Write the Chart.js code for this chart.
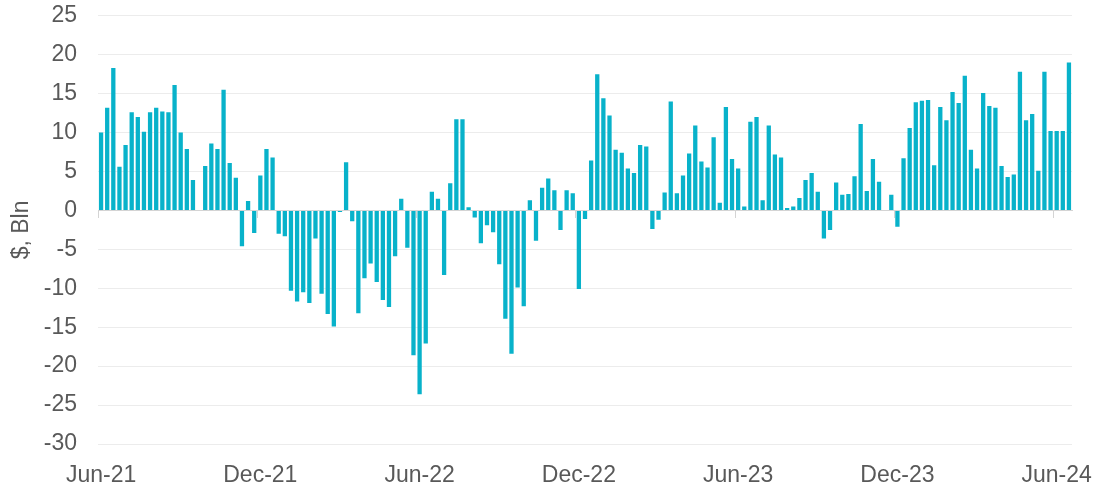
<!DOCTYPE html>
<html>
<head>
<meta charset="utf-8">
<script src="https://cdn.jsdelivr.net/npm/chart.js@4/dist/chart.umd.min.js"></script>
<style>
    html, body { margin: 0; padding: 0; background: #ffffff; }
    #wrap { width: 1096px; height: 489px; position: relative; }
</style>
</head>
<body>
<div id="wrap"><canvas id="flows-chart"></canvas></div>
<script>
// Weekly net flows, $ bln, Jun-21 .. Jun-24
const weeklyFlows = [
    10.0, 13.2, 18.3, 5.6, 8.4, 12.6, 12.0, 10.1, 12.6, 13.2,
    12.7, 12.6, 16.1, 10.0, 7.9, 3.9, 0, 5.7, 8.6, 7.9,
    15.5, 6.1, 4.2, -4.6, 1.2, -2.9, 4.5, 7.9, 6.8, -3.0,
    -3.3, -10.3, -11.7, -10.5, -11.9, -3.6, -10.7, -13.3, -14.9, -0.2,
    6.2, -1.4, -13.2, -8.7, -6.8, -9.2, -11.5, -12.4, -5.9, 1.5,
    -4.8, -18.6, -23.6, -17.1, 2.4, 1.5, -8.3, 3.5, 11.7, 11.7,
    0.4, -0.9, -4.2, -1.9, -2.8, -6.9, -13.9, -18.4, -9.9, -12.3,
    1.3, -3.9, 2.9, 4.1, 2.6, -2.5, 2.6, 2.2, -10.1, -1.1,
    6.4, 17.5, 14.4, 12.2, 7.8, 7.4, 5.4, 4.8, 8.4, 8.2,
    -2.4, -1.2, 2.3, 14.0, 2.2, 4.5, 7.3, 10.9, 6.3, 5.5,
    9.4, 1.0, 13.3, 6.6, 5.4, 0.5, 11.4, 12.0, 1.3, 10.9,
    7.2, 6.8, 0.3, 0.5, 1.6, 3.9, 4.8, 2.4, -3.6, -2.5,
    3.6, 2.0, 2.1, 4.4, 11.1, 2.5, 6.6, 3.7, 0, 2.0,
    -2.1, 6.7, 10.6, 13.9, 14.1, 14.2, 5.8, 13.3, 11.6, 15.2,
    13.8, 17.3, 7.8, 5.4, 15.1, 13.4, 13.2, 5.7, 4.3, 4.6,
    17.8, 11.6, 12.4, 5.1, 17.8, 10.2, 10.2, 10.2, 19.0
];

// one x label every 26 weeks
const tickLabels = ["Jun-21", "Dec-21", "Jun-22", "Dec-22", "Jun-23", "Dec-23", "Jun-24"];
const weeksPerTick = 26;
const firstWeek = new Date(2021, 5, 4);

const yMin = -30;
const yMax = 25;
const yStep = 5;

const barColor = "#08b2ca";
const textColor = "#595959";
const gridColor = "#ececec";
const axisColor = "#d4d4d4";
const fontFamily = "'Liberation Sans', Arial, sans-serif";

// category per week; only used as keys for the category axis
const weekLabels = weeklyFlows.map((_, i) => {
    const d = new Date(firstWeek.getTime() + i * 7 * 86400000);
    return d.toISOString().slice(0, 10);
});

function tickText(index) {
    return index % weeksPerTick === 0 ? (tickLabels[index / weeksPerTick] || "") : "";
}

new Chart(document.getElementById("flows-chart"), {
    type: "bar",
    data: {
        labels: weekLabels,
        datasets: [{
            data: weeklyFlows,
            backgroundColor: barColor,
            borderWidth: 0,
            barPercentage: 0.7,
            categoryPercentage: 1.0,
            xAxisID: "x",
        }],
    },
    options: {
        responsive: true,
        maintainAspectRatio: false,
        animation: false,
        events: [],
        layout: { padding: { left: 0, right: 24, top: 0, bottom: 0 } },
        plugins: {
            legend: { display: false },
            tooltip: { enabled: false },
        },
        scales: {
            x: {
                type: "category",
                offset: true,
                grid: { display: false, drawTicks: false },
                border: { display: false },
                ticks: {
                    autoSkip: false,
                    maxRotation: 0,
                    padding: 18,
                    color: textColor,
                    font: { family: fontFamily, size: 23 },
                    callback: (v, i) => tickText(i),
                },
                afterFit: s => { s.height = 45; },
            },
            // axis line through zero with the half-year tick marks
            xZero: {
                type: "category",
                position: { y: 0 },
                offset: true,
                grid: {
                    offset: true,
                    drawOnChartArea: false,
                    tickLength: 7,
                    color: ctx => (ctx.index % weeksPerTick === 0 ? axisColor : "rgba(0,0,0,0)"),
                },
                border: { display: true, color: axisColor, width: 1 },
                ticks: { display: false, autoSkip: false },
            },
            y: {
                min: yMin,
                max: yMax,
                grid: {
                    color: gridColor,
                    lineWidth: 1,
                    drawTicks: true,
                    tickLength: 19,
                    tickColor: "rgba(0,0,0,0)",
                },
                border: { display: false },
                ticks: {
                    stepSize: yStep,
                    padding: 2,
                    color: textColor,
                    font: { family: fontFamily, size: 23 },
                },
                title: {
                    display: true,
                    text: "$, Bln",
                    color: textColor,
                    font: { family: fontFamily, size: 23 },
                    padding: { top: 8, bottom: 0 },
                },
                afterFit: s => { s.width = 98; },
            },
        },
    },
});
</script>
</body>
</html>
